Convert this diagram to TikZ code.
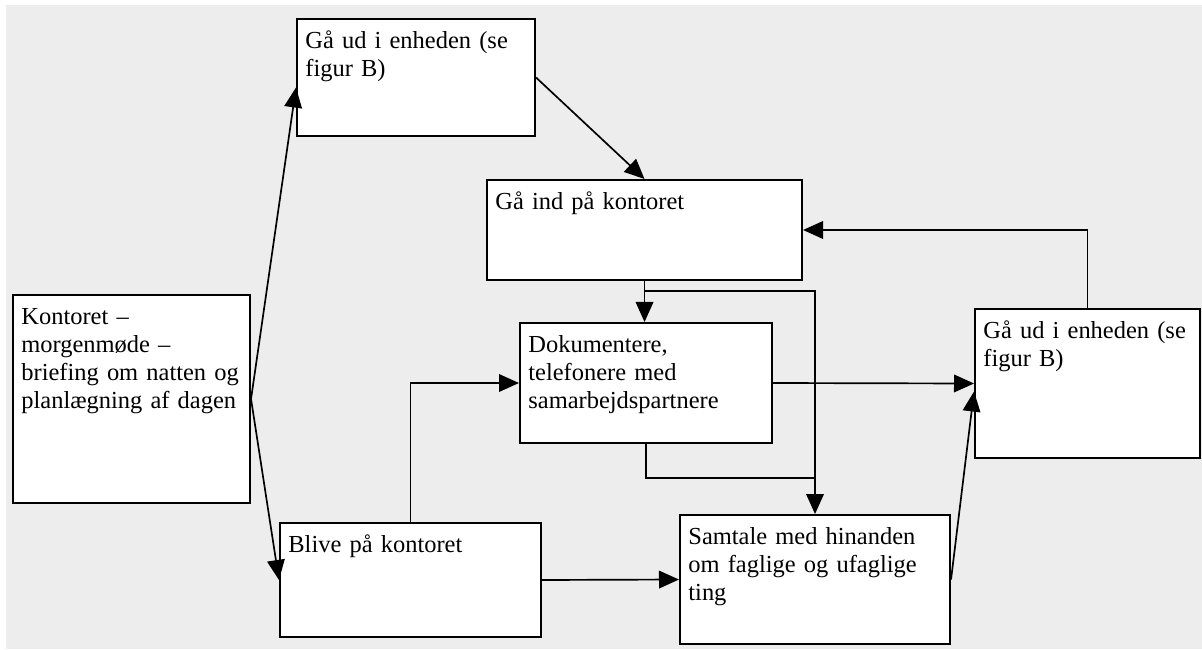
\documentclass[tikz,border=0pt]{standalone}
\usepackage{fontspec}
\setmainfont{Liberation Serif}
\usepackage{tikz}
\usetikzlibrary{arrows.meta}
\definecolor{bggray}{rgb}{0.929,0.929,0.929}
\tikzset{box/.style = {draw, fill=white, line width=1.4pt, anchor=north west, align=left,
  inner xsep=0.21cm, inner ysep=0.3cm, text height=0.44cm,
  font=\fontsize{17.4}{19.9}\selectfont}}
\tikzset{edge/.style = {line width=1.2pt, -{Triangle[length=0.5cm,width=0.44cm]}}}
\tikzset{line/.style = {line width=1.2pt}}

\begin{document}
\begin{tikzpicture}[x=0.025cm,y=-0.025cm]
\useasboundingbox (0,0) rectangle (1202,650);
\fill[bggray] (6,5) rectangle (1202,649);
% boxes
\node[box, text width=5.505cm, text depth=4.16cm] (kontor) at (12,294)
  {Kontoret --\\ morgenmøde --\\ briefing om natten og\\ planlægning af dagen};
\node[box, text width=5.53cm, text depth=1.885cm] (ud1) at (296,18)
  {Gå ud i enheden (se\\ figur B)};
\node[box, text width=7.455cm, text depth=1.46cm] (ind) at (486,179)
  {Gå ind på kontoret};
\node[box, text width=5.88cm, text depth=1.96cm] (dok) at (519,322)
  {Dokumentere,\\ telefonere med\\ samarbejdspartnere};
\node[box, text width=5.205cm, text depth=2.685cm] (ud2) at (974,308)
  {Gå ud i enheden (se\\ figur B)};
\node[box, text width=6.33cm, text depth=2.185cm] (samtale) at (679,514)
  {Samtale med hinanden\\ om faglige og ufaglige\\ ting};
\node[box, text width=6.105cm, text depth=1.81cm] (blive) at (279,522)
  {Blive på kontoret};

\coordinate (split) at ([yshift=-0.25cm]ind.south);
\coordinate (join) at (samtale.north |- 0,478);

% edges
\draw[edge] (kontor.east) -- ([yshift=-0.25cm]ud1.west);
\draw[edge] (kontor.east) -- (blive.west);
\draw[edge] (ud1.east) -- (ind.north);
\draw[edge] (ud2.north) |- (ind.east);
\draw[edge] (ind.south) -- (ind.south |- dok.north);
\draw[edge] (split) -| (samtale.north);
\draw[line] (dok.south) |- (join);
\draw[edge] (dok.east) -- (ud2.west);
\draw[edge] (blive.north) |- (dok.west);
\draw[edge] (blive.east) -- (samtale.west);
\draw[edge] (samtale.east) -- ([yshift=-0.2cm]ud2.west);
\end{tikzpicture}
\end{document}
